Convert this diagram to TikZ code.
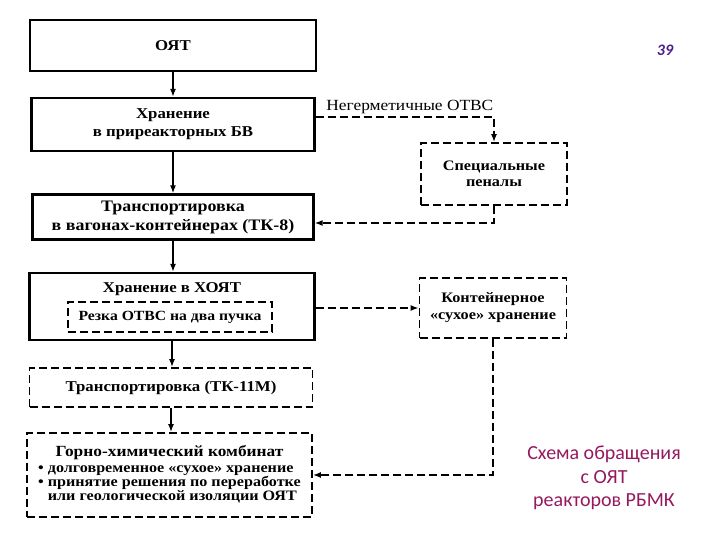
\documentclass[tikz,border=0pt]{standalone}
\usepackage{fontspec}
\setmainfont{Liberation Serif}
\newfontfamily\boxserif[FakeStretch=1.12]{Liberation Serif}
\newfontfamily\capfont{Carlito}
\usetikzlibrary{positioning,arrows.meta,calc}
\definecolor{capred}{RGB}{150,25,95}
\definecolor{pagenum}{RGB}{75,30,140}
\newcommand{\boxfont}{\boxserif\bfseries\fontsize{15}{18}\selectfont}
\newcommand{\listfont}{\boxserif\bfseries\fontsize{14.4}{13.2}\selectfont}
\tikzset{
  % --- boxes -------------------------------------------------------------
  base/.style     ={draw, align=center, inner sep=3pt, text=black, font=\boxfont},
  solidbox/.style ={base, line width=2.2pt},
  dashbox/.style  ={base, line width=1.7pt, dash pattern=on 8pt off 4pt},
  % --- arrows ------------------------------------------------------------
  arrow/.style    ={-{Latex[length=8pt,width=6pt]}, line width=1.8pt},
  dasharrow/.style={arrow, line width=1.7pt, dash pattern=on 8pt off 4pt},
  % --- annotation --------------------------------------------------------
  lab/.style      ={font=\boxserif\fontsize{15.5}{16}\selectfont, text=black, inner sep=0pt},
  caption/.style  ={font=\capfont\fontsize{20}{23.5}\selectfont, text=capred, align=center},
  pageno/.style   ={font=\capfont\bfseries\itshape\fontsize{16}{16}\selectfont, text=pagenum},
}

\begin{document}
\begin{tikzpicture}[x=1pt, y=-1pt]
  \useasboundingbox (0,0) rectangle (720,540);

  % ============================ main column ============================
  \node[solidbox, minimum width=286, minimum height=51] (oyat) at (173,45.5) {ОЯТ};
  \node[solidbox, minimum width=283, minimum height=53] (bv) at (173,124.5)
    {Хранение\\в приреакторных БВ};
  \node[solidbox, minimum width=281, minimum height=45,
        font=\boxserif\bfseries\fontsize{16}{19}\selectfont] (tk8) at (173,217)
    {Транспортировка\\в вагонах-контейнерах (ТК-8)};
  \node[solidbox, minimum width=285, minimum height=67,
        label={[font=\boxfont, anchor=north, yshift=-7pt]north:Хранение в ХОЯТ}] (hoyat) at (172,306.5) {};
  \node[dashbox, minimum width=204, minimum height=30,
        font=\boxserif\bfseries\fontsize{14}{16}\selectfont] (cut) at (170,317)
    {Резка ОТВС на два пучка};
  \node[dashbox, minimum width=283, minimum height=39] (tk11) at (171,387.5)
    {Транспортировка (ТК-11М)};
  \node[dashbox, minimum width=285, minimum height=84, font=\listfont] (gkhk) at (169.5,475)
    {\begin{tabular}{@{}l@{}}
       \multicolumn{1}{c}{\boxserif\bfseries\fontsize{15.5}{18}\selectfont Горно-химический комбинат}\\[3pt]
       \textbullet\ долговременное «сухое» хранение\\
       \textbullet\ принятие решения по переработке\\
       \phantom{\textbullet\ }или геологической изоляции ОЯТ
     \end{tabular}};

  % ============================ side branch ============================
  \node[dashbox, minimum width=146, minimum height=62,
        font=\boxserif\bfseries\fontsize{14.5}{16}\selectfont] (penal) at (494,174)
    {Специальные\\пеналы};
  \node[dashbox, minimum width=147, minimum height=60,
        font=\boxserif\bfseries\fontsize{14.5}{17}\selectfont] (cont) at (493,308)
    {Контейнерное\\«сухое» хранение};

  % ============================ main flow ============================
  \draw[arrow] (oyat.south) -- (bv.north);
  \draw[arrow] (bv.south) -- (tk8.north -| bv.south);
  \draw[arrow] (tk8.south) -- (hoyat.north -| tk8.south);
  \draw[arrow] (hoyat.south) -- (tk11.north -| hoyat.south);
  \draw[arrow] (tk11.south) -- (gkhk.north -| tk11.south);

  % ============================ dashed bypasses ============================
  \draw[dasharrow] ([yshift=7.5pt]bv.east) -| (penal.north)
    node[lab, pos=0, anchor=south west, xshift=10pt, yshift=2pt] (leak) {Негерметичные ОТВС};
  \draw[dasharrow] (penal.south) |- ([yshift=-6pt]tk8.east);
  \draw[dasharrow] (hoyat.east |- cont.west) -- (cont.west);
  \draw[dasharrow] (cont.south) |- (gkhk.east);

  % ============================ caption + page number ============================
  \node[caption] (cap) at (604,478) {Схема обращения\\с ОЯТ\\реакторов РБМК};
  \node[pageno] (page) at (665,50) {39};

\end{tikzpicture}
\end{document}
